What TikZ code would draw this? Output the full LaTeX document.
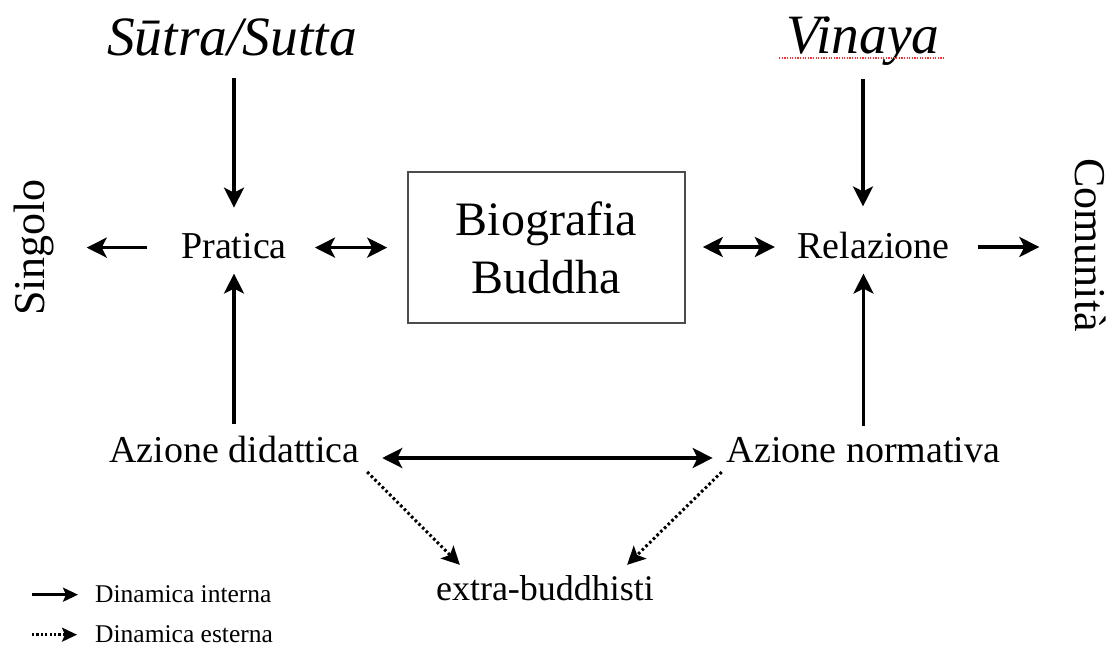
\documentclass[tikz,border=0pt]{standalone}
\usepackage{fontspec}
\setmainfont{Liberation Serif}
\usetikzlibrary{arrows.meta}
\begin{document}
\begin{tikzpicture}[x=1pt,y=-1pt,
  lbl/.style={inner sep=0pt, anchor=base, font=\fontsize{38}{45}\selectfont},
  head/.style={inner sep=0pt, anchor=base, font=\fontsize{55.5}{64}\selectfont\itshape},
  side/.style={inner sep=0pt, anchor=base, font=\fontsize{44}{52}\selectfont},
  leg/.style={inner sep=0pt, anchor=base west, font=\fontsize{25.5}{30}\selectfont},
  biobox/.style={draw=black!70, line width=1.6pt, minimum width=277pt, minimum height=151pt,
    inner sep=0pt, align=center, font=\fontsize{48}{58}\selectfont},
  arr/.style={line width=3.4pt, -{Stealth[length=20pt,width=20pt,inset=5pt]}},
  darr/.style={line width=3.4pt, {Stealth[length=20pt,width=20pt,inset=5pt]}-{Stealth[length=20pt,width=20pt,inset=5pt]}},
  dotarr/.style={line width=3pt, dash pattern=on 2.6pt off 2.6pt, -{Stealth[length=18pt,width=18pt,inset=4pt]}},
  legarr/.style={line width=2.6pt, -{Stealth[length=15pt,width=14pt,inset=3pt]}},
  legdot/.style={line width=2.4pt, dash pattern=on 2.2pt off 2.2pt, -{Stealth[length=15pt,width=14pt,inset=3pt]}}
]
\useasboundingbox (0,0) rectangle (1112,648);

% nodes
\node[head] (sutra) at (232,55) {Sūtra/Sutta};
\node[head] (vinaya) at (863,53) {Vinaya};
\node[lbl] (pratica) at (234,258) {Pratica};
\node[lbl] (relazione) at (873.5,258) {Relazione};
\node[biobox] (bio) at (546.5,247.5) {Biografia\\Buddha};
\node[side, rotate=90] (singolo) at (45,247.5) {Singolo};
\node[side, rotate=-90] (comunita) at (1075,245) {Comunità};
\node[lbl] (azd) at (234.5,462) {Azione didattica};
\node[lbl] (azn) at (863.5,462) {Azione normativa};
\node[lbl, font=\fontsize{36}{43}\selectfont] (extra) at (545,600) {extra-buddhisti};
\node[leg] (leg1) at (95,602) {Dinamica interna};
\node[leg] (leg2) at (95,642) {Dinamica esterna};

% spell-check underline
\draw[red!75!pink, line width=1.2pt, dash pattern=on 1.2pt off 1.4pt]
  ([xshift=-7pt,yshift=-5pt]vinaya.base west) -- ([xshift=5pt,yshift=-5pt]vinaya.base east);

% vertical arrows
\draw[arr, shorten <=22pt, shorten >=25pt] (sutra.south -| pratica) -- (pratica.north);
\draw[arr, shorten <=11pt, shorten >=15pt] (azd.north -| pratica) -- (pratica.south);
\draw[arr, shorten <=14pt, shorten >=25pt] (vinaya.south) -- (vinaya.south |- relazione.north);
\draw[arr, shorten <=11pt, shorten >=15pt] (azn.north) -- (azn.north |- relazione.south);

% horizontal arrows
\draw[arr, shorten <=34pt, shorten >=32pt] ([yshift=-2pt]pratica.west) -- ([yshift=-2pt]pratica.west -| singolo.south);
\draw[darr, shorten <=28pt, shorten >=20pt] ([yshift=-2pt]pratica.east) -- ([yshift=-2pt]pratica.east -| bio.west);
\draw[darr, shorten <=17pt, shorten >=22.5pt] ([yshift=-2pt]bio.east |- relazione.west) -- ([yshift=-2pt]relazione.west);
\draw[arr, shorten <=28.5pt, shorten >=35pt] ([yshift=-2pt]relazione.east) -- ([yshift=-2pt]relazione.east -| comunita.south);
\draw[darr, shorten <=22.5pt, shorten >=14pt] ([yshift=4pt]azd.base east) -- ([yshift=4pt]azd.base east -| azn.base west);

% dotted arrows
\draw[dotarr] ([xshift=7.5pt,yshift=-10pt]azd.base east) -- ([xshift=24pt,yshift=10pt]extra.north west);
\draw[dotarr] ([xshift=-5pt,yshift=-10pt]azn.base west) -- ([xshift=-27pt,yshift=10pt]extra.north east);

% legend
\draw[legarr] ([xshift=-63pt,yshift=-1pt]leg1.west) -- ([xshift=-17pt,yshift=-1pt]leg1.west);
\draw[legdot] ([xshift=-63pt,yshift=-1pt]leg2.west) -- ([xshift=-18pt,yshift=-1pt]leg2.west);
\end{tikzpicture}
\end{document}
